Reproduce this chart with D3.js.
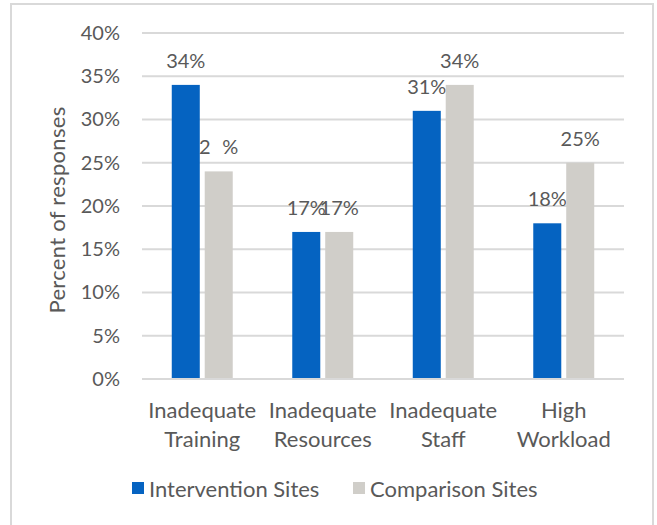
<!DOCTYPE html>
<html>
<head>
<meta charset="utf-8">
<script src="https://cdn.jsdelivr.net/npm/d3@7"></script>
<style>
  html, body { margin: 0; padding: 0; background: #fff; }
  svg { display: block; }
  text { font-family: Lato, "Open Sans", sans-serif; fill: #595959; }
</style>
</head>
<body>
<svg id="chart" width="657" height="525"></svg>
<script>
// Reasons reported, by site type
const categories = [["Inadequate", "Training"], ["Inadequate", "Resources"], ["Inadequate", "Staff"], ["High", "Workload"]];
const seriesNames = ["Intervention Sites", "Comparison Sites"];
const intervention = [34, 17, 31, 18];
const comparison = [24, 17, 34, 25];
const yTicks = [0, 5, 10, 15, 20, 25, 30, 35, 40];
const colors = ["#0563c1", "#d0cec9"];

const svg = d3.select("#chart");
const W = 657, H = 525;
const margin = { left: 142, right: 33, top: 33, bottom: 146 };
const plotW = W - margin.left - margin.right;
const plotH = H - margin.top - margin.bottom;

// outer chart frame
svg.append("rect")
  .attr("x", 11).attr("y", 4)
  .attr("width", 642).attr("height", 540)
  .attr("fill", "none").attr("stroke", "#d9d9d9").attr("stroke-width", 2);

const g = svg.append("g").attr("transform", `translate(${margin.left},${margin.top})`);

const keys = categories.map((c, i) => i);
const x0 = d3.scaleBand().domain(keys).range([0, plotW]).paddingInner(0).paddingOuter(0);
const bw = x0.bandwidth();
const x1 = d3.scaleBand().domain([0, 1]).range([bw * 0.247, bw * 0.753]).paddingInner(0.15);
const y = d3.scaleLinear().domain([0, 40]).range([plotH, 0]);

// gridlines
g.append("g")
  .selectAll("line")
  .data(yTicks.filter(t => t > 0))
  .join("line")
  .attr("x1", 0).attr("x2", plotW)
  .attr("y1", d => y(d)).attr("y2", d => y(d))
  .attr("stroke", "#d9d9d9").attr("stroke-width", 2);

// y axis labels
const yAxis = g.append("g")
  .call(d3.axisLeft(y).tickValues(yTicks).tickFormat(d => d + "%").tickSize(0).tickPadding(22));
yAxis.select(".domain").remove();
yAxis.selectAll("text")
  .attr("font-size", 20).attr("fill", "#595959")
  .style("font-family", "Lato, 'Open Sans', sans-serif");

// y axis title
svg.append("text")
  .attr("transform", `translate(65,${margin.top + 177}) rotate(-90)`)
  .attr("text-anchor", "middle")
  .attr("font-size", 22)
  .attr("letter-spacing", 0.3)
  .text("Percent of responses");

const series = [intervention, comparison];

// value labels (drawn beneath the bars so neighbouring bars overlap them)
const labels = g.append("g");
series.forEach((vals, s) => {
  vals.forEach((v, i) => {
    const cx = x0(i) + x1(s) + x1.bandwidth() / 2;
    const t = labels.append("text")
      .attr("x", cx)
      .attr("y", y(v) - 17)
      .attr("text-anchor", "middle")
      .attr("font-size", 20)
      .attr("fill", "#404040");
    if (s === 1 && i === 0) {
      const str = v + "%";
      t.append("tspan").text(str[0]);
      t.append("tspan").attr("fill", "#fff").text(str[1]);
      t.append("tspan").text(str.slice(2));
    } else {
      t.text(v + "%");
    }
  });
});

// bars
series.forEach((vals, s) => {
  g.append("g")
    .selectAll("rect")
    .data(vals)
    .join("rect")
    .attr("x", (d, i) => x0(i) + x1(s))
    .attr("y", d => y(d))
    .attr("width", x1.bandwidth())
    .attr("height", d => plotH - y(d))
    .attr("fill", colors[s]);
});

// baseline
g.append("line")
  .attr("x1", 0).attr("x2", plotW)
  .attr("y1", plotH).attr("y2", plotH)
  .attr("stroke", "#d9d9d9").attr("stroke-width", 2);

// category labels
const cat = g.append("g");
categories.forEach((lines, i) => {
  const t = cat.append("text")
    .attr("x", x0(i) + bw / 2)
    .attr("y", plotH + 39)
    .attr("text-anchor", "middle")
    .attr("font-size", 22);
  lines.forEach((ln, k) => {
    t.append("tspan").attr("x", x0(i) + bw / 2).attr("dy", k === 0 ? 0 : 29).text(ln);
  });
});

// legend
const legend = svg.append("g");
const legendX = [132, 353];
seriesNames.forEach((name, s) => {
  legend.append("rect")
    .attr("x", legendX[s]).attr("y", 482)
    .attr("width", 12).attr("height", 12)
    .attr("fill", colors[s]);
  legend.append("text")
    .attr("x", legendX[s] + 17).attr("y", 497)
    .attr("font-size", 22)
    .text(name);
});
</script>
</body>
</html>
